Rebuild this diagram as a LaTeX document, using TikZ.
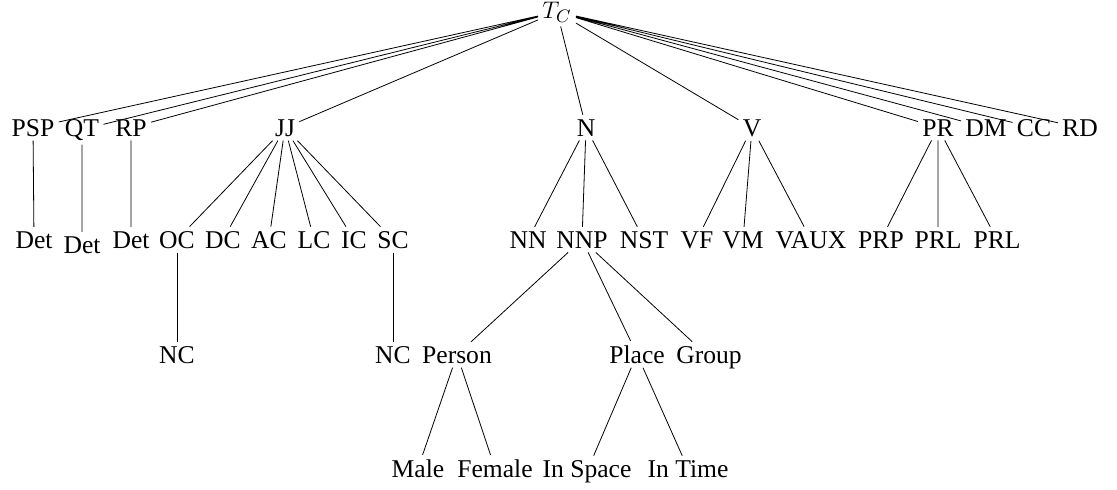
\documentclass[tikz,border=0pt]{standalone}
\usepackage{fontspec}
\setmainfont{Liberation Serif}
\tikzset{tag/.style={anchor=base,inner sep=2pt,font=\fontsize{12.8}{15}\selectfont}}

\begin{document}
\begin{tikzpicture}[x=0.5pt,y=-0.5pt]
	\useasboundingbox (0,0) rectangle (1117,489);
	% root
	\node[tag] (tc) at (557,18) {$T_C$};
	% first level
	\node[tag] (psp) at (33,136) {PSP};
	\node[tag] (qt) at (82,136) {QT};
	\node[tag] (rp) at (131,136) {RP};
	\node[tag] (jj) at (285,136) {JJ};
	\node[tag] (n) at (586,136) {N};
	\node[tag] (v) at (752,136) {V};
	\node[tag] (pr) at (938,136) {PR};
	\node[tag] (dm) at (986,136) {DM};
	\node[tag] (cc) at (1034,136) {CC};
	\node[tag] (rd) at (1080,136) {RD};
	% second level
	\node[tag] (det1) at (34,248) {Det};
	\node[tag] (det2) at (82,253) {Det};
	\node[tag] (det3) at (131,248) {Det};
	\node[tag] (oc) at (177,248) {OC};
	\node[tag] (dc) at (223,248) {DC};
	\node[tag] (ac) at (269,248) {AC};
	\node[tag] (lc) at (314,248) {LC};
	\node[tag] (ic) at (354,248) {IC};
	\node[tag] (sc) at (393,248) {SC};
	\node[tag] (nn) at (528,248) {NN};
	\node[tag] (nnp) at (582,248) {NNP};
	\node[tag] (nst) at (644,248) {NST};
	\node[tag] (vf) at (697,248) {VF};
	\node[tag] (vm) at (743,248) {VM};
	\node[tag] (vaux) at (811,248) {VAUX};
	\node[tag] (prp) at (881,248) {PRP};
	\node[tag] (prl1) at (938,248) {PRL};
	\node[tag] (prl2) at (997,248) {PRL};
	% third level
	\node[tag] (nc1) at (177,363) {NC};
	\node[tag] (nc2) at (393,363) {NC};
	\node[tag] (person) at (457,363) {Person};
	\node[tag] (place) at (637,363) {Place};
	\node[tag] (group) at (709,363) {Group};
	% fourth level
	\node[tag] (male) at (418,477) {Male};
	\node[tag] (female) at (495,477) {Female};
	\node[tag] (inspace) at (587,477) {In Space};
	\node[tag] (intime) at (688,477) {In Time};
	% edges
	\draw (tc) -- (psp) (tc) -- (qt) (tc) -- (rp) (tc) -- (jj) (tc) -- (n);
	\draw (tc) -- (v) (tc) -- (pr) (tc) -- (dm) (tc) -- (cc) (tc) -- (rd);
	\draw (psp) -- (det1) (qt) -- (det2) (rp) -- (det3);
	\draw (jj) -- (oc) (jj) -- (dc) (jj) -- (ac) (jj) -- (lc) (jj) -- (ic) (jj) -- (sc);
	\draw (oc) -- (nc1) (sc) -- (nc2);
	\draw (n) -- (nn) (n) -- (nnp) (n) -- (nst);
	\draw (nnp) -- (person) (nnp) -- (place) (nnp) -- (group);
	\draw (person) -- (male) (person) -- (female);
	\draw (place) -- (inspace) (place) -- (intime);
	\draw (v) -- (vf) (v) -- (vm) (v) -- (vaux);
	\draw (pr) -- (prp) (pr) -- (prl1) (pr) -- (prl2);
\end{tikzpicture}
\end{document}
